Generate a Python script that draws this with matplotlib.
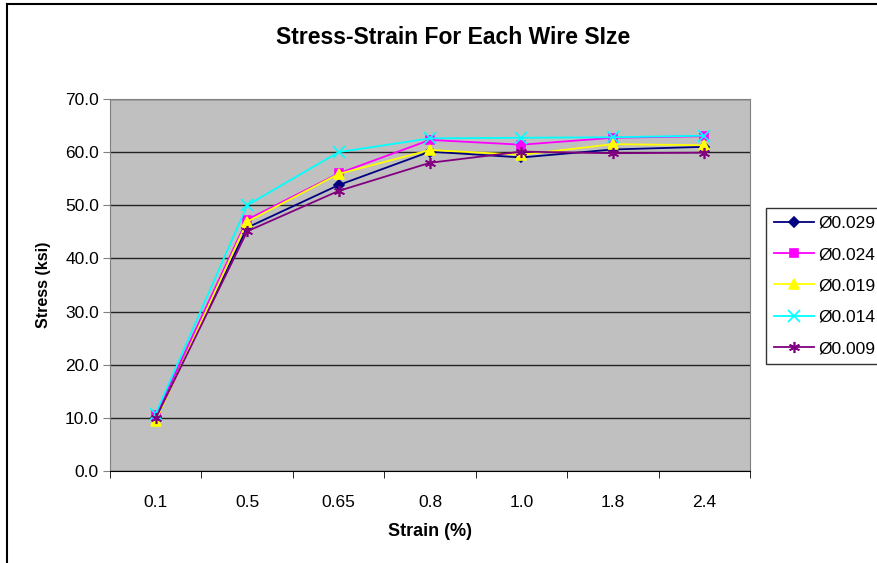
import matplotlib.pyplot as plt
from matplotlib.lines import Line2D
import numpy as np

plt.rcParams['font.family'] = ['Liberation Sans', 'DejaVu Sans']

# data
strain = ["0.1", "0.5", "0.65", "0.8", "1.0", "1.8", "2.4"]
wires = ["Ø0.029", "Ø0.024", "Ø0.019", "Ø0.014", "Ø0.009"]
s_029 = [10.0, 45.8, 53.8, 60.1, 59.0, 60.5, 61.0]
s_024 = [10.6, 47.3, 56.0, 62.3, 61.4, 62.7, 63.0]
s_019 = [9.4, 46.9, 55.9, 60.4, 59.5, 61.5, 61.3]
s_014 = [10.8, 50.0, 60.0, 62.6, 62.7, 62.8, 63.1]
s_009 = [9.9, 45.1, 52.7, 58.0, 60.1, 59.8, 59.9]

series = [s_029, s_024, s_019, s_014, s_009]
colors = ["#000080", "#FF00FF", "#FFFF00", "#00FFFF", "#800080"]
markers = ["D", "s", "^", "x", (6, 2, 0)]
msizes = [5, 6, 7, 8, 8]

fig = plt.figure(figsize=(8.77, 5.63), dpi=100)
ax = fig.add_axes([110/877, 1-471/563, 640/877, 372/563])
ax.set_facecolor("#C0C0C0")

x = np.arange(len(strain))
for vals, c, m, ms, lab in zip(series, colors, markers, msizes, wires):
    ax.plot(x, vals, color=c, marker=m, markersize=ms, linewidth=1.3,
            markeredgewidth=1.2, label=lab)

ax.set_xlim(-0.5, len(strain)-0.5)
ax.set_ylim(0, 70)
ax.set_yticks(np.arange(0, 71, 10))
ax.set_yticklabels([f"{v:.1f}" for v in np.arange(0, 71, 10)], fontsize=12.5)
ax.set_xticks(x)
ax.set_xticklabels(strain, fontsize=12.5)
ax.set_xticks(np.arange(-0.5, len(strain), 1), minor=True)
ax.tick_params(axis="x", which="major", length=0, pad=17)
ax.tick_params(axis="x", which="minor", length=5, direction="out", color="black")
ax.tick_params(axis="y", length=5, direction="out", color="#808080", pad=3)

ax.grid(axis="y", color="#222222", linewidth=1)
ax.set_axisbelow(True)
for side in ["top", "right", "left"]:
    ax.spines[side].set_color("#808080")
ax.spines["bottom"].set_color("black")

ax.set_xlabel("Strain (%)", fontsize=13, fontweight="bold", labelpad=10)
ax.set_ylabel("Stress (ksi)", fontsize=11.5, fontweight="bold", labelpad=10)
fig.text(453/877, 1-37/563, "Stress-Strain For Each Wire SIze", ha="center",
         va="center", fontsize=16.5, fontweight="bold")

leg = fig.legend(loc="upper left", bbox_to_anchor=(766/877, 1-208/563),
                 fontsize=12.5, frameon=True, fancybox=False, borderpad=0.45,
                 borderaxespad=0, handlelength=2.3, labelspacing=0.93,
                 handletextpad=0.25)
leg.get_frame().set_edgecolor("black")
leg.get_frame().set_linewidth(1)

# chart area border (left and top visible)
fig.add_artist(Line2D([7/877, 7/877], [0, 1-4/563], color="black", linewidth=1.5))
fig.add_artist(Line2D([7/877, 1], [1-4/563, 1-4/563], color="black", linewidth=1.5))

plt.savefig("out.png", dpi=100)
